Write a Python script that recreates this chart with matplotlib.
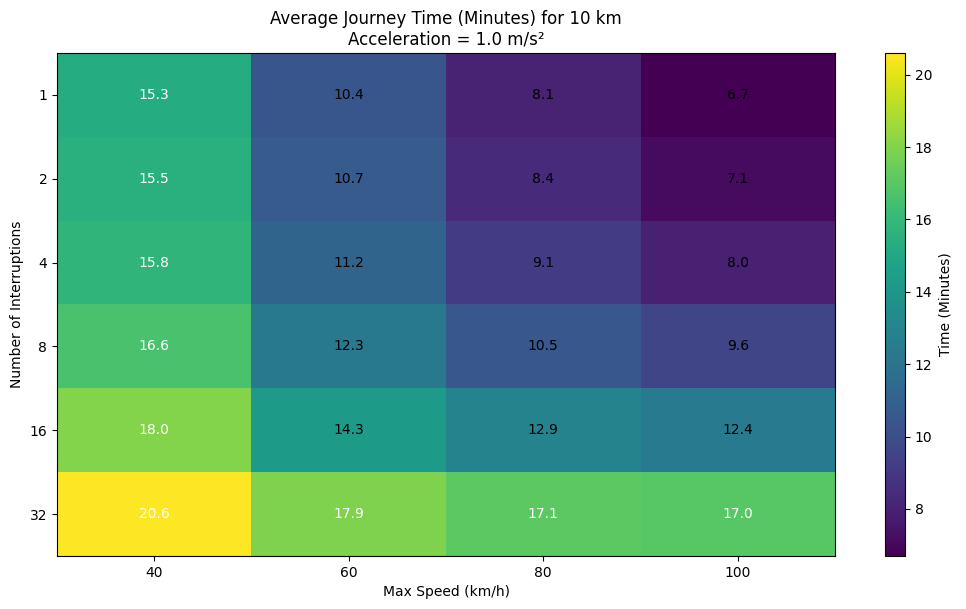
import matplotlib.pyplot as plt
import numpy as np

speeds = [40, 60, 80, 100]
interruptions = [1, 2, 4, 8, 16, 32]
times = [
    [15.3, 10.4, 8.1, 6.7],
    [15.5, 10.7, 8.4, 7.1],
    [15.8, 11.2, 9.1, 8.0],
    [16.6, 12.3, 10.5, 9.6],
    [18.0, 14.3, 12.9, 12.4],
    [20.6, 17.9, 17.1, 17.0],
]

data = np.array(times)

fig = plt.figure(figsize=(9.66, 6.09), dpi=100)
ax = fig.add_axes([57 / 966, 53 / 609, 778 / 966, 503 / 609])
cax = fig.add_axes([885 / 966, 53 / 609, 20 / 966, 503 / 609])
im = ax.imshow(data, cmap='viridis', aspect='auto')
cbar = fig.colorbar(im, cax=cax)
cbar.set_label('Time (Minutes)')

ax.set_xticks(range(len(speeds)))
ax.set_xticklabels(speeds)
ax.set_yticks(range(len(interruptions)))
ax.set_yticklabels(interruptions)
ax.set_xlabel('Max Speed (km/h)')
ax.set_ylabel('Number of Interruptions')
ax.set_title('Average Journey Time (Minutes) for 10 km\nAcceleration = 1.0 m/s²')

for i in range(len(interruptions)):
    for j in range(len(speeds)):
        v = data[i, j]
        ax.text(j, i, f'{v:.1f}', ha='center', va='center',
                color='white' if v > 15 else 'black')

plt.savefig('out.png')
